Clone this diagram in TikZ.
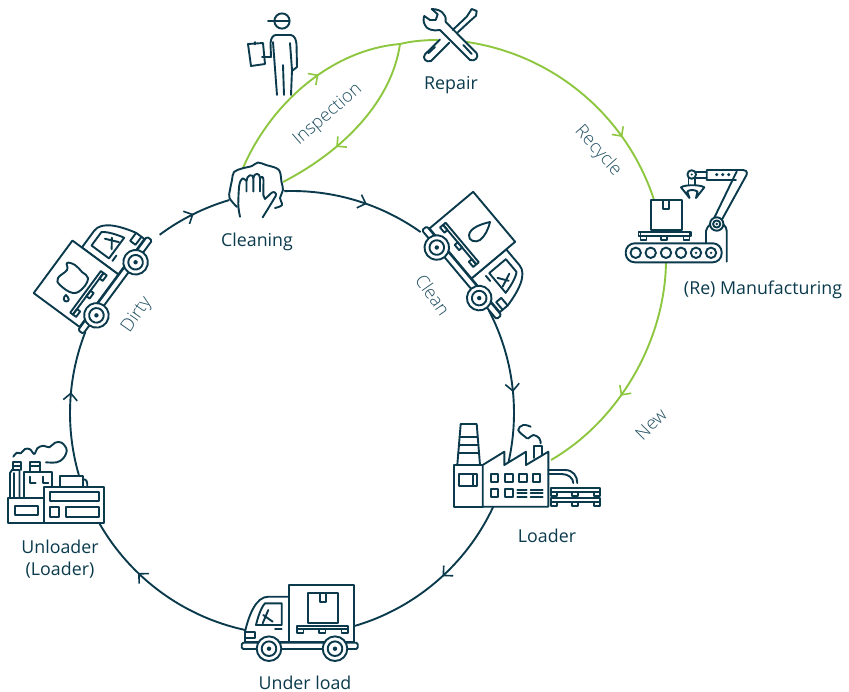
\documentclass[tikz,border=0pt]{standalone}
\usepackage{fontspec}
\setmainfont{Open Sans}
\newfontfamily\lightf{Open Sans Light}
\usetikzlibrary{arrows.meta,decorations.markings,calc}
\definecolor{ink}{HTML}{0A3A4C}
\definecolor{leaf}{HTML}{8DC63F}
\definecolor{soft}{HTML}{1F4E60}
\tikzset{
  flow/.style={draw=ink,line width=1.9pt},
  gflow/.style={draw=leaf,line width=1.9pt},
  ic/.style={draw=ink,line width=1.9pt,line join=round,line cap=round},
  icw/.style={ic,fill=white},
  tipmark/.style 2 args={postaction={decorate},decoration={markings,mark=at position #1 with {\arrow[#2,line width=1.6pt]{Straight Barb[length=7pt,width=14pt]}}}},
  lab/.style={text=ink,font=\fontsize{17.8}{22}\selectfont,inner sep=0pt,align=center,anchor=base},
  slab/.style={text=soft,font=\lightf\fontsize{18}{20}\selectfont,inner sep=0pt},
}
\newcommand\icWheel[1]{%
  \begin{scope}[shift={(#1,0)}]
    \draw[icw] (0,0) circle[radius=12.3];
    \draw[ic] (0,0) circle[radius=7.3];
    \fill[ink] (0,0) circle[radius=2.2];
  \end{scope}}
\newcommand\icTruck{%
    \draw[icw] (-57,-6.7) -- (-57,-17) .. controls (-53,-34) and (-46,-52) .. (-33.7,-52) -- (-13,-52) -- (-13,-6.7) -- cycle;
    \draw[ic] (-57,-17) -- (-47,-17) -- (-47,-10.4) -- (-57,-10.4);
    \draw[ic] (-37,-45.4) -- (-20.3,-45.4) -- (-20.3,-23.7) -- (-46,-23.7) .. controls (-44,-32) and (-41,-41) .. (-37,-45.4) -- cycle;
    \draw[ic] (-33.7,-38.7) -- (-39.3,-25.4) (-38.7,-33.7) -- (-29.3,-27);
    \draw[ic] (-27,-19.4) -- (-20.3,-19.4);
    \draw[icw] (-13,-63.7) rectangle (52.3,-6.7);
    \draw[ic] (-5.3,-22.7) rectangle (46.3,-19.4);
    \foreach \f in {-5.3,16.7,39.5} \draw[ic] (\f,-19.4) rectangle ++(6.8,4);
    \draw[icw,rounded corners=1.5pt] (-60.3,-6) rectangle (55.7,0.3);
    \icWheel{-33}
    \icWheel{33}}
\newcommand\icPallet[2]{%
  \begin{scope}[shift={(#1,#2)}]
    \draw[ic] (0,0) rectangle (49,4);
    \foreach \f in {0,20.7,43} \draw[ic] (\f,4) rectangle ++(6,3.5);
  \end{scope}}
\begin{document}
\begin{tikzpicture}[x=1pt,y=1pt,yscale=-1]
\useasboundingbox (0,0) rectangle (849,691);
% ---------- centres of the two rings
\coordinate (hub) at (292,413);
\coordinate (ghub) at (433,272);
% ---------- connector ends
\coordinate (cleaningOut) at ($(hub)+(268:222)$);
\coordinate (cleanOut)    at ($(hub)+(332.5:222)$);
\coordinate (loaderOut)   at ($(hub)+(25:222)$);
\coordinate (underOut)    at ($(hub)+(102.2:222)$);
\coordinate (unloadOut)   at ($(hub)+(163.8:222)$);
\coordinate (dirtyOut)    at ($(hub)+(233.4:222)$);
% ---------- main ring
\draw[flow,tipmark={0.58}{}] (cleaningOut) arc[start angle=268,end angle=305.4,radius=222];
\draw[flow,tipmark={0.545}{}] (cleanOut) arc[start angle=332.5,end angle=373,radius=222];
\draw[flow,tipmark={0.46}{}] (loaderOut) arc[start angle=25,end angle=73.5,radius=222];
\draw[flow,tipmark={0.66}{}] (underOut) arc[start angle=102.2,end angle=150.2,radius=222];
\draw[flow,tipmark={0.574}{}] (unloadOut) arc[start angle=163.8,end angle=201.4,radius=222];
\draw[flow,tipmark={0.51}{}] (dirtyOut) arc[start angle=233.4,end angle=253.6,radius=222];
% ---------- green routes
\coordinate (inspA) at (243,168);
\coordinate (inspB) at (400,44);
\coordinate (repairW) at (438,40);
\coordinate (cleanB) at (283,182);
\coordinate (repairE) at ($(ghub)+(278:232.5)$);
\coordinate (mfgOut) at (666,262);
\coordinate (loaderG) at (551,460);
\draw[gflow,tipmark={0.58}{}] (inspA) .. controls (270,105) and (330,50) .. (inspB);
\draw[gflow] (inspB) .. controls (412,41) and (425,40) .. (repairW);
\draw[gflow,tipmark={0.66}{}] (inspB) .. controls (392,100) and (345,150) .. (cleanB);
\draw[gflow,tipmark={0.73}{}] (repairE) arc[start angle=278,end angle=341.7,radius=232.5];
\draw[gflow,tipmark={0.6}{}] (mfgOut) .. controls (665,340) and (620,420) .. (loaderG);
% ---------- inspector
\draw[ic] (282,21) circle[radius=7.6];
\draw[ic] (268,21) -- (289,21);
\draw[ic] (271,57) -- (270.5,43) .. controls (271,38) and (273,35) .. (276,35) -- (291,35) .. controls (295,36) and (296,40) .. (296.5,44) -- (297,67) -- (292,71);
\draw[ic] (290,43) -- (292,70) -- (291,95);
\draw[ic] (273,42) -- (277,95);
\draw[ic] (283,65) -- (284,95);
\draw[ic] (248,44) -- (263,43) -- (265,64) -- (251,66) -- cycle;
\draw[ic] (255,42) -- (255,44.5);
\draw[ic] (262,57) -- (271,57);
% ---------- repair
\draw[ic,fill=white] (431.7,9) .. controls (437,9) and (442,11) .. (443.5,14) .. controls (446,17) and (446,19) .. (445.7,22) -- (476.7,53.3) .. controls (479,57) and (475,62) .. (470,60) -- (440,30) .. controls (433,31.5) and (426,29) .. (425,25) .. controls (423,22) and (423.5,18) .. (424.3,16) -- (430,20) -- (435.7,20) -- (437.7,14.3) -- cycle;
\draw[ic] (463.3,45) -- (471.7,54);
\draw[ic] (440,39.5) -- (425,54.3) .. controls (422,58) and (426,63) .. (431,61) -- (449.3,42.7);
\draw[ic] (428.3,53.3) -- (435,47);
\draw[ic] (452.7,30) -- (466.7,16.7) -- (471.7,9) -- (476.7,11) -- (476,15.7) -- (470,21) -- (456.7,33.3);
% ---------- cleaning
\draw[icw] plot[smooth,tension=.6] coordinates {(237,207) (229.5,198) (230,190) (232,180) (234,172) (242,168.5) (252,166) (258,162.5) (266,165) (276,168) (280,172) (281.5,182) (283,190) (280,198) (282,205) (275,208)};
\draw[ic] plot[smooth,tension=.5] coordinates {(240,216.7) (238.3,205) (239.3,185) (242.5,178.5) (246.5,181)};
\draw[ic] (246.5,191.5) -- (246.5,181) .. controls (246.5,175) and (253,173) .. (253.3,178) -- (253.3,191.5);
\draw[ic] (253.3,178) .. controls (254,172.5) and (260,172.5) .. (260,178) -- (260,191.5);
\draw[ic] (260,179) .. controls (261,175.5) and (263.5,176.5) .. (263.5,180) -- (263.3,195) -- (265,199) -- (271.7,192.7) .. controls (274,191) and (277,193) .. (275.7,196) -- (268.3,208.3) -- (262.7,217.3);
% ---------- manufacturing
\draw[icw] (706,242.7) -- (706,231) .. controls (707,226) and (712,222) .. (716,222) .. controls (722,222) and (726.7,226) .. (726.7,231) -- (726.7,261.7);
\draw[icw,rounded corners=9pt] (625.7,243.3) rectangle (721.7,262.3);
\foreach \wx in {635.7,650.7,666,681,696,711} \draw[ic] (\wx,252.8) circle[radius=5.2];
\fill[ink] (696,252.8) circle[radius=1.3] (711,252.8) circle[radius=1.3];
\icPallet{640.5}{232.3}
\draw[ic] (638.5,232.3) rectangle (691,236);
\draw[icw] (650.7,200) rectangle (681.7,230);
\draw[ic] (663.3,200) -- (663.3,208.8) -- (669,208.8) -- (669,200);
\draw[ic] (714,218.3) -- (736.7,171.5);
\draw[ic] (721.7,220) -- (746.5,175) .. controls (748,171.5) and (745,169.5) .. (743,170) -- (706.7,170) -- (706.7,180) -- (736,180);
\draw[icw] (716.7,224) circle[radius=6.7];
\draw[ic] (716.7,224) circle[radius=3.6];
\fill[ink] (716.7,224) circle[radius=1.3];
\foreach \dx in {716.7,722.7,728.7} \fill[ink] (\dx,174.6) circle[radius=1.7];
\draw[ic] (696,171.7) -- (706.7,171.7) (696,177.7) -- (706.7,177.7);
\draw[icw] (691.7,174.5) circle[radius=4.3];
\fill[ink] (691.7,174.5) circle[radius=1.2];
\draw[ic] (688.5,178.5) -- (688.5,185) (695,178.5) -- (695,185);
\draw[ic] (681,187.3) .. controls (685,184.5) and (700,184.5) .. (704.3,187.3) -- (696,198) -- (697.5,191.5) .. controls (694,189.5) and (690,189.5) .. (687.3,191.5) -- (689.5,198) -- cycle;
% ---------- loader factory
\draw[icw] (460.7,424) -- (476.7,424) -- (480,465) -- (457.3,465) -- cycle;
\draw[ic] (459.6,436.7) -- (477.7,436.7) (459,445) -- (478.3,445) (458.3,453.3) -- (479,453.3);
\draw[icw] (454,465) rectangle (482.7,506.7);
\draw[ic] (459,474.3) rectangle (477.3,486);
\draw[ic] (472.7,474.3) -- (472.7,486);
\draw[ic] (534.3,458) -- (534.3,446) -- (541.7,446) -- (541.7,455);
\draw[ic] plot[smooth,tension=.7] coordinates {(540.7,443.3) (539.3,438.3) (533.3,435) (528.3,438.3) (525,436.7) (518.3,430) (523.3,425) (530.7,426.7)};
\draw[icw] (482.7,465) -- (504.3,451.7) -- (504.3,465) -- (526,451.7) -- (526,465) -- (548.3,451.7) -- (548.3,506.7) -- (482.7,506.7) -- cycle;
\foreach \wx/\wy in {490.7/474.3,505/474.3,519.3/474.3,532.7/474.3,490.7/488.7,505/488.7} \draw[ic] (\wx,\wy) rectangle ++(7.7,8);
\foreach \ly in {490,493.3,496.7} \draw[ic] (517.3,\ly) -- (526.7,\ly) (530.7,\ly) -- (542.7,\ly);
\draw[ic] (548.3,470) -- (565,470) .. controls (573,470) and (577.3,476) .. (577.3,483);
\draw[ic] (548.3,474) -- (561.7,474) .. controls (568,474) and (573.3,478) .. (573.3,483);
\icPallet{551}{488.3}
\icPallet{551}{498.3}
% ---------- under-load truck
\begin{scope}[shift={(302,648.7)}]
  \icTruck
  \draw[ic] (6.3,-55.4) rectangle (35.7,-25.4);
  \draw[ic] (18,-55.4) -- (18,-46.4) -- (24,-46.4) -- (24,-55.4);
\end{scope}
% ---------- clean truck
\begin{scope}[shift={(458,272.8)},rotate=50,xscale=-1]
  \icTruck
\end{scope}
\draw[ic] (490,222) .. controls (481,224) and (470,228) .. (469,235) .. controls (468,241) and (476,243) .. (480,240) .. controls (485,236) and (488,230) .. (490,222) -- cycle;
% ---------- dirty truck
\begin{scope}[shift={(116,288.8)},rotate=-53.6,xscale=-1]
  \icTruck
\end{scope}
\draw[ic] plot[smooth cycle,tension=.7] coordinates {(67,263) (75,265) (82,272) (88,278) (83,288) (73,293) (60,285) (58,278) (67,270)};
\draw[ic] (66,295) .. controls (69,298) and (70,301) .. (66.5,301.5) .. controls (63,301.5) and (63,297) .. (66,295) -- cycle;
% ---------- unloader
\draw[ic] plot[smooth,tension=.6] coordinates {(13.3,456.7) (16.7,452.7) (20.7,453.3) (25,449) (30,449.3) (34.3,454) (37.3,448.3) (43.3,445.7) (49.3,447.3) (55,442.7) (61.7,442.7) (66.7,450) (63.3,458.3) (56.7,462.3) (46,462.3)};
\draw[ic] (12.7,470) -- (12.7,462.3) -- (20.7,462.3) -- (20.7,470) (12.7,466) -- (20.7,466);
\draw[ic] (30,471.7) -- (30,462.3) -- (40,462.3) -- (40,471.7) (30,466) -- (40,466);
\draw[ic] (10,497.7) -- (10,473) -- (12,470) -- (19.5,470) -- (19.5,497.7) (14,497.7) -- (14,473);
\draw[ic] (24.3,497.7) -- (24.3,471.7) -- (52.3,471.7) -- (52.3,487.3);
\draw[ic] (30,476.7) -- (30,482.7) -- (35.7,482.7) (42.7,476.7) -- (42.7,482.7) -- (48.3,482.7);
\draw[ic] (83.3,479.3) .. controls (87,479.3) and (87.3,482) .. (87.3,486.7);
\draw[icw] (60,486.7) -- (60,476) -- (83.3,476) -- (83.3,486.7);
\draw[icw] (8.3,497.7) rectangle (44.3,523.3);
\draw[ic] (15,506) rectangle (38.3,515);
\draw[icw] (44.3,487.3) rectangle (104,523.3);
\draw[ic] (50,492.3) rectangle (99.3,500.7);
\draw[ic] (50,507.3) rectangle (59,517.3);
\draw[ic] (65.7,507.3) rectangle (99.3,517.3);
% ---------- labels
\node[lab] (lrepair) at (451,89) {Repair};
\node[lab] (lcleaning) at (257,246) {Cleaning};
\node[lab] (lmfg) at (763,294) {(Re) Manufacturing};
\node[lab] (lloader) at (547,542) {Loader};
\node[lab] (lunder) at (305,689) {Under load};
\node[lab] (lunload1) at (60,553) {Unloader};
\node[lab] (lunload2) at (60,575) {(Loader)};
\node[slab,rotate=41] (linsp) at (328,115) {Inspection};
\node[slab,rotate=-48] (lrec) at (598,151) {Recycle};
\node[slab,rotate=45] (lnew) at (651,424) {New};
\node[slab,rotate=-55] (lclean) at (433,295) {Clean};
\node[slab,rotate=55] (ldirty) at (137,315) {Dirty};
\end{tikzpicture}
\end{document}
